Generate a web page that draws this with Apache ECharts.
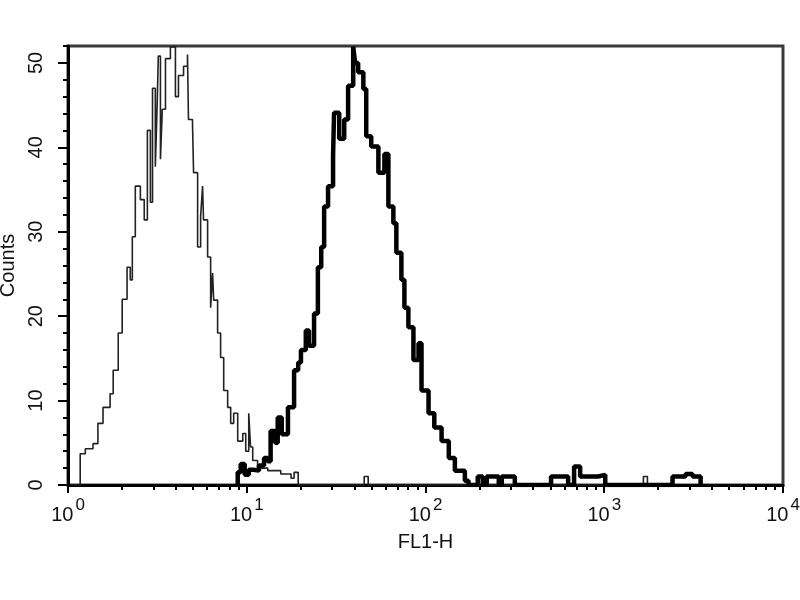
<!DOCTYPE html>
<html><head><meta charset="utf-8">
<script src="https://cdn.jsdelivr.net/npm/echarts@6/dist/echarts.min.js"></script>
<style>html,body{margin:0;padding:0;background:#fff}#c{width:800px;height:600px}</style>
</head><body><div id="c"></div>
<script>
// ---- data ----
const xTickValues = [1, 10, 100, 1000, 10000];
const xTickExponents = ['0', '1', '2', '3', '4'];
const xMinorTickValues = [2,3,4,5,6,7,8,9,20,30,40,50,60,70,80,90,200,300,400,500,600,700,800,900,2000,3000,4000,5000,6000,7000,8000,9000];
const yTickLabels = [0, 10, 20, 30, 40, 50];
const yMax = 52;

// control (thin) histogram: FL1-H value at left edge of bin, counts
const controlX = [1.03, 1.17, 1.25, 1.38, 1.47, 1.57, 1.72, 1.79, 1.91, 2.01, 2.14, 2.23, 2.29, 2.38, 2.54, 2.67, 2.78, 2.89, 2.97, 3.08, 3.16, 3.20, 3.29, 3.37, 3.51, 3.74, 3.99, 4.15, 4.43, 4.66, 4.72, 4.97, 5.04, 5.31, 5.52, 5.66, 5.73, 6.04, 6.28, 6.44, 6.53, 6.87, 7.14, 7.43, 7.82, 8.13, 8.45, 8.90, 9.50, 9.87, 10.26, 10.5, 10.8, 11.5, 13.1, 15.5, 17.7, 18.4, 19.4, 45.4, 47.8, 1656, 1744];
const controlY = [0, 3.7, 4.3, 4.9, 7.3, 9.2, 10.8, 13.6, 18, 22, 25.8, 24.3, 29.4, 35.4, 33.8, 31.4, 42, 33.5, 47, 37.7, 45.7, 50.8, 38.6, 44.5, 50.5, 51.9, 46, 48.5, 49.6, 51, 43.3, 43, 37, 28.2, 31.8, 35.4, 31.4, 27, 21, 25.1, 21.9, 18, 15.1, 11.2, 9.2, 7.3, 8.5, 5.2, 6.1, 4, 8.5, 4.5, 2.9, 2, 1.7, 1.3, 0.8, 1.5, 0, 1, 0, 1, 0];

// stained (thick) histogram
const stainX = [8.67, 8.90, 9.25, 9.74, 10.26, 10.9, 11.7, 12.5, 13.1, 13.6, 14.4, 14.9, 15.7, 17.0, 18.4, 19.4, 20.1, 21.4, 22.3, 23.8, 25.0, 26.1, 27.1, 28.5, 30.4, 30.8, 32.9, 35.1, 36.9, 39.4, 40.4, 42.0, 44.9, 46.6, 49.7, 54.5, 58.9, 62.0, 66.1, 68.7, 73.3, 76.2, 80.2, 85.6, 91.4, 95.0, 104, 112, 123, 135, 146, 166, 174, 196, 209, 220, 257, 267, 316, 504, 628, 678, 733, 824, 925, 1013, 2410, 2851, 3120, 3460];
const stainY = [0, 1.5, 2.5, 1.2, 1.8, 1.7, 2.3, 3.2, 2.8, 6.4, 5, 8, 6, 9.2, 13.6, 14.5, 16, 18.3, 16.5, 20.3, 25.8, 28.2, 33, 35.4, 39, 44.1, 41, 43.3, 47.3, 51.9, 50, 48.9, 46.9, 41.3, 40.1, 37, 39.2, 33, 31, 27.5, 24.3, 21, 18.7, 14.8, 16.8, 11.2, 8.5, 6.8, 5.2, 3.2, 1.7, 0.5, 0, 1, 0, 1, 0, 1, 0, 1, 0, 2.2, 1, 1, 1.2, 0, 1, 1.3, 1, 0];

const FONT = "'Liberation Sans Narrow', 'Liberation Sans', Arial, sans-serif";
const zip = (xs, ys) => xs.map((x, i) => [x, ys[i]]);

const chart = echarts.init(document.getElementById('c'), null, {renderer: 'canvas'});
chart.setOption({
  animation: false,
  backgroundColor: '#fff',
  grid: {left: 68, right: 17, top: 46, bottom: 115, containLabel: false, outerBoundsMode: 'none',
    show: true, borderColor: '#3a3a3a', borderWidth: 3, backgroundColor: 'transparent'},
  xAxis: [{
    type: 'log', logBase: 10, min: xTickValues[0], max: xTickValues[xTickValues.length - 1],
    position: 'bottom',
    axisLine: {show: true, onZero: false, lineStyle: {color: '#000', width: 3}},
    axisTick: {show: true, inside: false, length: 8, lineStyle: {color: '#000', width: 2}},
    minorTick: {show: false},
    splitLine: {show: false},
    axisLabel: {
      margin: 12,
      formatter: function (v) {
        const i = xTickValues.findIndex(t => Math.abs(t - v) / t < 1e-6);
        return i < 0 ? '' : '{b|10}{s|' + xTickExponents[i] + '}';
      },
      rich: {
        b: {fontFamily: FONT, fontSize: 20, color: '#111', lineHeight: 28, verticalAlign: 'bottom'},
        s: {fontFamily: FONT, fontSize: 17, color: '#111', lineHeight: 17, verticalAlign: 'top', padding: [0, 0, 11, 2]}
      }
    },
    name: 'FL1-H', nameLocation: 'middle', nameGap: 47,
    nameTextStyle: {fontFamily: FONT, fontSize: 20, color: '#111'}
  }, {
    type: 'value', min: 0, max: 4, position: 'bottom',
    axisLine: {show: false},
    axisTick: {show: true, inside: false, length: 5, lineStyle: {color: '#000', width: 2},
      customValues: xMinorTickValues.map(v => Math.log10(v))},
    axisLabel: {show: false},
    splitLine: {show: false}
  }],
  yAxis: [{
    type: 'value', min: 0, max: yMax, interval: 10,
    axisLine: {show: true, onZero: false, lineStyle: {color: '#000', width: 3}},
    axisTick: {show: true, inside: false, length: 10, lineStyle: {color: '#000', width: 2}},
    splitLine: {show: false},
    axisLabel: {
      rotate: 90, margin: 22, showMaxLabel: false,
      fontFamily: FONT, fontSize: 20, color: '#111',
      formatter: v => (yTickLabels.indexOf(v) >= 0 ? String(v) : '')
    },
    name: 'Counts', nameLocation: 'middle', nameGap: 48,
    nameTextStyle: {fontFamily: FONT, fontSize: 20, color: '#111', padding: [0, 0, 0, 0]}
  }, {
    type: 'value', min: 0, max: yMax, interval: 2, position: 'left',
    axisLine: {show: false},
    axisTick: {show: true, inside: false, length: 5, lineStyle: {color: '#000', width: 2}},
    axisLabel: {show: false},
    splitLine: {show: false}
  }],
  series: [{
    type: 'line', name: 'control', xAxisIndex: 0, yAxisIndex: 0,
    step: 'end', showSymbol: false, symbol: 'none',
    lineStyle: {color: '#222', width: 1.6},
    data: zip(controlX, controlY), z: 3
  }, {
    type: 'line', name: 'stained', xAxisIndex: 0, yAxisIndex: 0,
    step: 'end', showSymbol: false, symbol: 'none',
    lineStyle: {color: '#000', width: 4.5},
    data: zip(stainX, stainY), z: 4
  }]
});
</script>
</body></html>
